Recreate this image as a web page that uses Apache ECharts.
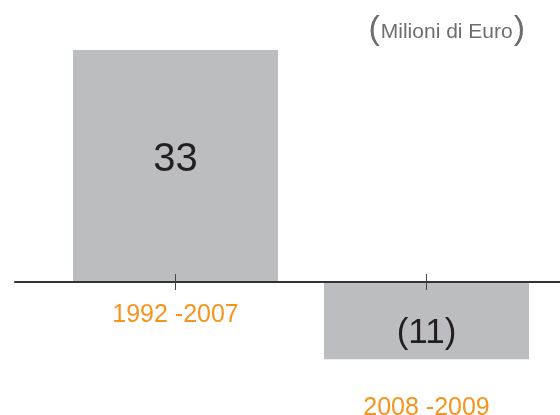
<!DOCTYPE html>
<html>
<head>
<meta charset="utf-8">
<script src="https://cdn.jsdelivr.net/npm/echarts@6/dist/echarts.min.js"></script>
<style>
  html, body { margin: 0; padding: 0; background: #fff; }
  #chart { width: 560px; height: 415px; }
</style>
</head>
<body>
<div id="chart"></div>
<script>
// data
const periods = ['1992 -2007', '2008 -2009'];
const values = [33, -11];
const unitLabel = 'Milioni di Euro';

const font = 'Liberation Sans, Arial, sans-serif';
const orange = '#F7941D';

const chart = echarts.init(document.getElementById('chart'));

const options = {
  animation: false,
  title: {
    text: '{p|(}{m|' + unitLabel + '}{p|)}',
    right: 30,
    top: 8,
    textStyle: {
      rich: {
        p: { fontSize: 34, color: '#6d6e71', fontFamily: font, fontWeight: 'normal' },
        m: { fontSize: 21, color: '#6d6e71', fontFamily: font, fontWeight: 'normal', padding: [4, 1, 0, 1] },
      },
    },
  },
  grid: [
    { left: 50, right: 8, top: 50, bottom: 55.7, outerBoundsMode: 'none', containLabel: false },
    { left: 15, right: 0, top: 50, bottom: 55.7, outerBoundsMode: 'none', containLabel: false },
  ],
  xAxis: [
    {
      // lower half of the ticks on the zero line
      type: 'category',
      gridIndex: 0,
      position: 'bottom',
      z: 5,
      data: periods,
      axisLine: { show: false, onZero: true },
      axisTick: { show: true, alignWithLabel: true, length: 8, lineStyle: { color: '#444', width: 1 } },
      axisLabel: { show: false },
    },
    {
      // upper half of the ticks + first period label, sitting on the zero line
      type: 'category',
      gridIndex: 0,
      position: 'bottom',
      offset: -77.3,
      z: 5,
      data: periods,
      axisLine: { show: false, onZero: false },
      axisTick: { show: true, inside: true, alignWithLabel: true, length: 8, lineStyle: { color: '#444', width: 1 } },
      axisLabel: {
        margin: 21,
        fontSize: 25,
        color: orange,
        fontFamily: font,
        formatter: (v, i) => (i === 0 ? v : ''),
      },
    },
    {
      // below the negative bar: second period label
      type: 'category',
      gridIndex: 0,
      position: 'bottom',
      data: periods,
      axisLine: { show: false, onZero: false },
      axisTick: { show: false },
      axisLabel: {
        margin: 36,
        fontSize: 25,
        color: orange,
        fontFamily: font,
        formatter: (v, i) => (i === 1 ? v : ''),
      },
    },
    {
      type: 'category',
      gridIndex: 1,
      position: 'bottom',
      z: 4,
      data: [''],
      axisLine: { show: true, onZero: true, lineStyle: { color: '#333', width: 2 } },
      axisTick: { show: false },
      axisLabel: { show: false },
    },
  ],
  yAxis: [
    { type: 'value', gridIndex: 0, min: -11, max: 33, show: false },
    { type: 'value', gridIndex: 1, min: -11, max: 33, show: false },
  ],
  series: [
    {
      type: 'bar',
      xAxisIndex: 0,
      yAxisIndex: 0,
      barWidth: 205,
      z: 1,
      itemStyle: { color: '#bcbdc0' },
      label: {
        show: true,
        position: 'inside',
        color: '#231f20',
        fontFamily: font,
        formatter: (p) => (p.value < 0 ? '(' + Math.abs(p.value) + ')' : String(p.value)),
      },
      data: [
        { value: values[0], label: { fontSize: 40, offset: [0, -6] } },
        { value: values[1], label: { fontSize: 35, offset: [0, 13] } },
      ],
    },
  ],
};

chart.setOption(options);
</script>
</body>
</html>
